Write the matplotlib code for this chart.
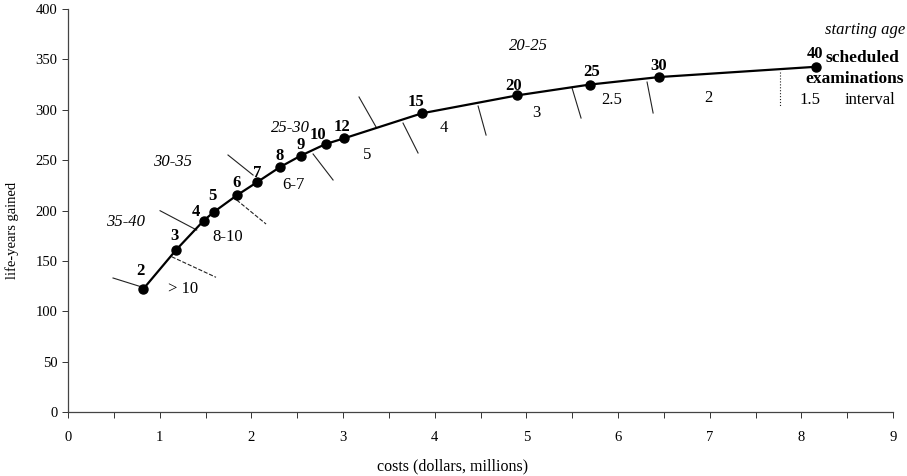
import matplotlib
matplotlib.use("Agg")
import matplotlib.pyplot as plt
import numpy as np

plt.rcParams['font.family'] = ['Liberation Serif', 'DejaVu Serif']

# Screening strategies: cost vs. life-years gained, labelled by number of scheduled examinations
exams = ['2', '3', '4', '5', '6', '7', '8', '9', '10', '12', '15', '20', '25', '30', '40']
costs = [0.82, 1.18, 1.48, 1.59, 1.84, 2.06, 2.31, 2.54, 2.81, 3.01, 3.86, 4.90, 5.69, 6.45, 8.16]
life_years = [122, 161, 190, 198.5, 215, 228, 243, 254.5, 266, 271.6, 296.5, 314.3, 325, 332.5, 342.7]
# label offsets (pixels) for the examination counts
exam_dx = [-3, -2, -8, -1, 0, 0, 0, 0, -8, -2, -6, -4, 2, -1, -1]
exam_dy = [18, 14, 9, 16, 12, 9, 11, 11, 9, 11, 11, 9, 13, 11, 13]

# Boundary ticks separating regions of equal screening interval / starting age
boundary_x0 = [0.491, 1.131, 1.004, 1.840, 1.745, 2.673, 3.174, 3.654, 4.473, 5.498, 6.316, 7.767]
boundary_x1 = [0.807, 1.614, 1.404, 2.160, 2.018, 2.891, 3.360, 3.818, 4.560, 5.596, 6.382, 7.767]
boundary_y0 = [133, 154.1, 199.8, 210.4, 255.1, 256.1, 312.7, 286.8, 303.7, 321.6, 327.5, 337.4]
boundary_y1 = [124, 133.7, 180.6, 186.6, 235.2, 230.3, 282.9, 257.1, 274.9, 291.8, 296.8, 302.7]
boundary_style = ['-', '--', '-', '--', '-', '-', '-', '-', '-', '-', '-', ':']

# Screening interval (years) labels below the curve
interval_labels = ['> 10', '8-10', '6-7', '5', '4', '3', '2.5', '2', '1.5']
interval_x = [1.254, 1.745, 2.455, 3.262, 4.102, 5.105, 5.925, 6.982, 8.09]
interval_y = [122.1, 173.7, 224.9, 255.1, 281.9, 296.8, 310.0, 311.7, 310.0]

# Starting age labels above the curve
age_labels = ['35-40', '30-35', '25-30', '20-25']
age_x = [0.622, 1.135, 2.422, 5.018]
age_y = [188.6, 248.1, 281.9, 363.3]

x_ticks = [0, 1, 2, 3, 4, 5, 6, 7, 8, 9]
y_ticks = [0, 50, 100, 150, 200, 250, 300, 350, 400]

fig = plt.figure(figsize=(9.07, 4.76), dpi=100)
ax = fig.add_axes([0.075, 0.1345, 0.9097, 0.8465])

for x0, x1, y0, y1, ls in zip(boundary_x0, boundary_x1, boundary_y0, boundary_y1, boundary_style):
    ax.plot([x0, x1], [y0, y1], color='#222222', lw=0.8, ls=ls)

ax.plot(costs, life_years, color='black', lw=1.6, marker='o', ms=6.5, zorder=3)

for lab, x, y, dx, dy in zip(exams, costs, life_years, exam_dx, exam_dy):
    ax.annotate(lab, (x, y), xytext=(dx, dy), textcoords='offset pixels',
                ha='center', va='center', fontsize=12, fontweight='bold')

for lab, x, y in zip(interval_labels, interval_x, interval_y):
    ax.text(x, y, lab, ha='center', va='center', fontsize=12)

for lab, x, y in zip(age_labels, age_x, age_y):
    ax.text(x, y, lab, ha='center', va='center', fontsize=12, style='italic')

ax.text(9.13, 379, 'starting age', ha='right', va='center', fontsize=12, style='italic')
ax.text(8.26, 351.4, 'scheduled', ha='left', va='center', fontsize=12.5, fontweight='bold')
ax.text(9.12, 330.5, 'examinations', ha='right', va='center', fontsize=12.5, fontweight='bold')
ax.text(8.75, 309.7, 'interval', ha='center', va='center', fontsize=12)

ax.set_xlim(0, 9)
ax.set_ylim(0, 400)
ax.set_xticks(x_ticks)
ax.set_xticks(np.arange(0.5, 9, 1.0), minor=True)
ax.set_yticks(y_ticks)
ax.tick_params(axis='both', labelsize=10.5, direction='out', length=4, width=0.7, colors='#333333',
               labelcolor='black')
ax.tick_params(axis='x', which='minor', direction='out', length=4, width=0.7, colors='#333333')
ax.tick_params(axis='x', pad=10)
for s in ['top', 'right']:
    ax.spines[s].set_visible(False)
for s in ['left', 'bottom']:
    ax.spines[s].set_color('#444444')
    ax.spines[s].set_linewidth(0.9)

ax.set_xlabel('costs (dollars, millions)', fontsize=11.5)
ax.xaxis.set_label_coords(4.19 / 9, -0.115)
ax.set_ylabel('life-years gained', fontsize=10.5)
ax.yaxis.set_label_coords(-0.06, 180 / 400)

fig.savefig('out.png', dpi=100)
